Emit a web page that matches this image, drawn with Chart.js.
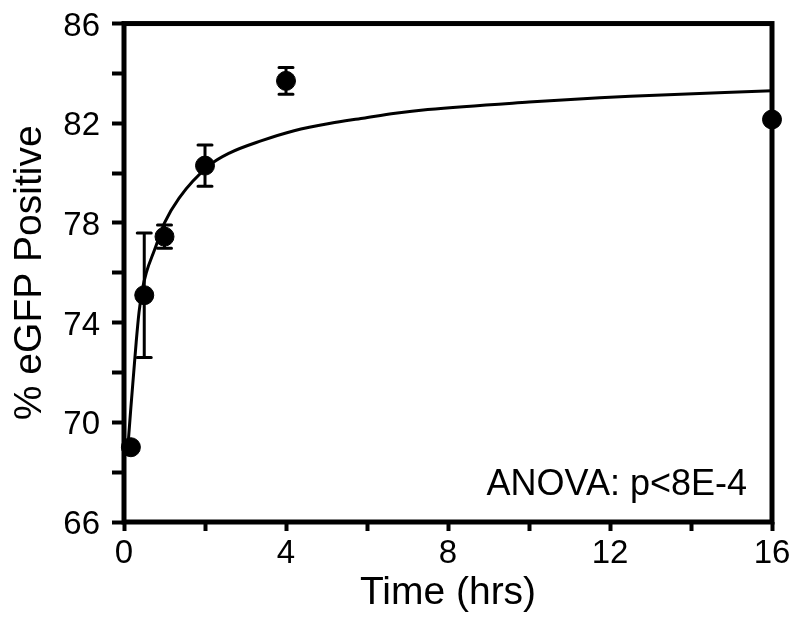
<!DOCTYPE html>
<html>
<head>
<meta charset="utf-8">
<script src="https://cdn.jsdelivr.net/npm/chart.js@4/dist/chart.umd.min.js"></script>
<style>
  html, body { margin: 0; padding: 0; background: #fff; }
  #wrap { width: 800px; height: 617px; }
</style>
</head>
<body>
<div id="wrap"><canvas id="myChart"></canvas></div>
<script>
// measured points (time in hrs, % eGFP positive)
const timeHrs = [0.17, 0.5, 1, 2, 4, 16];
const pctPos = [69.0, 75.1, 77.45, 80.3, 83.7, 82.15];
const errBar = [0.1, 2.5, 0.47, 0.83, 0.54, 0.15];

// fitted curve
const fitX = [0.1, 0.17, 0.24, 0.3, 0.37, 0.45, 0.55, 0.75, 1.0, 1.36, 2.1, 2.6, 3.4, 4.2, 5.1, 5.9, 6.7, 7.5, 10, 11.75, 12.5, 16];
const fitY = [69.1, 70.6, 72.0, 73.2, 74.4, 75.3, 76.0, 76.9, 78.0, 79.0, 80.3, 80.8, 81.3, 81.7, 82.0, 82.2, 82.4, 82.55, 82.85, 83.02, 83.08, 83.3];

// axis ticks
const xLabels = [0, 4, 8, 12, 16];
const yLabels = [66, 70, 74, 78, 82, 86];
const noteText = "ANOVA: p<8E-4";

const FONT = "'Liberation Sans', Arial, sans-serif";

// frame + error bars + note
const extras = {
  id: "extras",
  beforeDatasetsDraw(chart) {
    const { ctx, chartArea: a, scales } = chart;
    ctx.save();
    ctx.strokeStyle = "#000";
    ctx.lineWidth = 5;
    ctx.strokeRect(a.left, a.top, a.right - a.left, a.bottom - a.top);

    ctx.lineWidth = 3;
    ctx.lineCap = "round";
    timeHrs.forEach((t, i) => {
      const x = scales.x.getPixelForValue(t);
      const y1 = scales.y.getPixelForValue(pctPos[i] + errBar[i]);
      const y2 = scales.y.getPixelForValue(pctPos[i] - errBar[i]);
      ctx.beginPath();
      ctx.moveTo(x, y1); ctx.lineTo(x, y2);
      ctx.moveTo(x - 7, y1); ctx.lineTo(x + 7, y1);
      ctx.moveTo(x - 7, y2); ctx.lineTo(x + 7, y2);
      ctx.stroke();
    });

    ctx.fillStyle = "#000";
    ctx.font = "36px " + FONT;
    ctx.textAlign = "right";
    ctx.textBaseline = "alphabetic";
    ctx.fillText(noteText, a.right - 25, a.bottom - 27);
    ctx.restore();
  },
};

const ctx = document.getElementById("myChart").getContext("2d");
const myChart = new Chart(ctx, {
  type: "scatter",
  data: {
    datasets: [
      {
        data: fitX.map((x, i) => ({ x: x, y: fitY[i] })),
        showLine: true,
        borderColor: "#000",
        borderWidth: 3,
        pointRadius: 0,
        cubicInterpolationMode: "monotone",
        clip: false,
      },
      {
        data: timeHrs.map((x, i) => ({ x: x, y: pctPos[i] })),
        backgroundColor: "#000",
        borderColor: "#000",
        pointRadius: 9.5,
        clip: false,
      },
    ],
  },
  options: {
    responsive: true,
    maintainAspectRatio: false,
    animation: false,
    layout: { padding: { left: 3, right: 28, top: 22, bottom: 0 } },
    plugins: {
      legend: { display: false },
      tooltip: { enabled: false },
    },
    scales: {
      x: {
        type: "linear",
        min: 0,
        max: 16,
        border: { display: false },
        grid: {
          drawOnChartArea: false,
          tickLength: 9,
          tickWidth: 4,
          tickColor: "#000",
        },
        ticks: {
          stepSize: 2,
          autoSkip: false,
          maxRotation: 0,
          padding: 3,
          color: "#000",
          font: { family: FONT, size: 33 },
          callback: (v) => (xLabels.includes(v) ? String(v) : ""),
        },
        title: {
          display: true,
          text: "Time (hrs)",
          color: "#000",
          padding: 0,
          font: { family: FONT, size: 39 },
        },
        afterFit: (s) => { s.height = 95; },
      },
      y: {
        min: 66,
        max: 86,
        border: { display: false },
        grid: {
          drawOnChartArea: false,
          tickLength: 12,
          tickWidth: 4,
          tickColor: "#000",
        },
        ticks: {
          stepSize: 2,
          autoSkip: false,
          padding: 12,
          labelOffset: 3,
          color: "#000",
          font: { family: FONT, size: 33, lineHeight: 0.7 },
          callback: (v) => (yLabels.includes(v) ? String(v) : ""),
        },
        title: {
          display: true,
          text: "% eGFP Positive",
          color: "#000",
          font: { family: FONT, size: 39 },
        },
        afterFit: (s) => { s.width = 121; },
      },
    },
  },
  plugins: [extras],
});
</script>
</body>
</html>
